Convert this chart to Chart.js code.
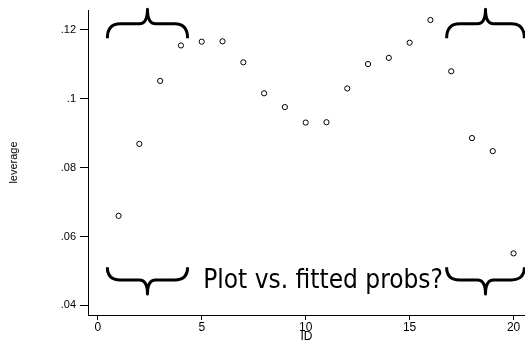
<!DOCTYPE html>
<html>
<head>
<meta charset="utf-8">
<script src="https://cdn.jsdelivr.net/npm/chart.js@4/dist/chart.umd.min.js"></script>
<style>
  html, body { margin: 0; padding: 0; background: #fff; }
  #wrap { width: 525px; height: 341px; }
</style>
</head>
<body>
<div id="wrap"><canvas id="c" width="525" height="341"></canvas></div>
<script>
// datos
const ids = [1, 2, 3, 4, 5, 6, 7, 8, 9, 10, 11, 12, 13, 14, 15, 16, 17, 18, 19, 20];
const leverage = [0.0660, 0.0869, 0.1052, 0.1155, 0.1166, 0.1167, 0.1106, 0.1016, 0.0976, 0.0931,
                  0.0932, 0.1030, 0.1101, 0.1119, 0.1163, 0.1229, 0.1080, 0.0886, 0.0848, 0.0551];
const xTicks = [0, 5, 10, 15, 20];
const yTicks = [0.04, 0.06, 0.08, 0.1, 0.12];
const note = 'Plot vs. fitted probs?';

// llaves: x1, x2 (extremos), y de extremos, barra y punta (unidades de datos)
const braces = [
  { x1: 0.46, x2: 4.32, yEnd: 0.1176, yBar: 0.1218, yTip: 0.1260 },
  { x1: 16.78, x2: 20.52, yEnd: 0.1176, yBar: 0.1218, yTip: 0.1260 },
  { x1: 0.46, x2: 4.32, yEnd: 0.0511, yBar: 0.0474, yTip: 0.0433 },
  { x1: 16.78, x2: 20.52, yEnd: 0.0511, yBar: 0.0474, yTip: 0.0433 }
];

function drawBrace(ctx, x1, x2, yEnd, yBar, yTip) {
  const xm = (x1 + x2) / 2;
  const r = 13, rt = 8;
  ctx.beginPath();
  ctx.moveTo(x1, yEnd);
  ctx.quadraticCurveTo(x1, yBar, x1 + r, yBar);
  ctx.lineTo(xm - rt, yBar);
  ctx.quadraticCurveTo(xm, yBar, xm, yTip);
  ctx.quadraticCurveTo(xm, yBar, xm + rt, yBar);
  ctx.lineTo(x2 - r, yBar);
  ctx.quadraticCurveTo(x2, yBar, x2, yEnd);
  ctx.stroke();
}

const annotations = {
  id: 'annotations',
  afterDatasetsDraw(chart) {
    const { ctx, scales: { x, y } } = chart;
    ctx.save();
    ctx.strokeStyle = '#000';
    ctx.lineWidth = 3;
    ctx.lineJoin = 'round';
    braces.forEach(b => {
      drawBrace(ctx, x.getPixelForValue(b.x1), x.getPixelForValue(b.x2),
        y.getPixelForValue(b.yEnd), y.getPixelForValue(b.yBar), y.getPixelForValue(b.yTip));
    });
    ctx.fillStyle = '#000';
    ctx.font = '26px "DejaVu Sans Condensed", "DejaVu Sans", sans-serif';
    ctx.textBaseline = 'alphabetic';
    ctx.textAlign = 'left';
    ctx.fillText(note, x.getPixelForValue(5.07), y.getPixelForValue(0.0450));
    ctx.restore();
  }
};

new Chart(document.getElementById('c'), {
  type: 'scatter',
  data: {
    datasets: [{
      data: ids.map((id, i) => ({ x: id, y: leverage[i] })),
      pointStyle: 'circle',
      pointRadius: 2.6,
      pointHoverRadius: 2.6,
      pointBorderWidth: 1,
      pointBorderColor: '#000',
      pointBackgroundColor: 'rgba(0,0,0,0)'
    }]
  },
  options: {
    responsive: false,
    animation: false,
    events: [],
    layout: { autoPadding: false, padding: { top: 10, right: 0, left: 0, bottom: 0 } },
    plugins: { legend: { display: false }, tooltip: { enabled: false } },
    scales: {
      x: {
        type: 'linear',
        min: -0.47,
        max: 20.55,
        afterBuildTicks: s => { s.ticks = xTicks.map(v => ({ value: v })); },
        afterFit: s => { s.height = 26; s.paddingLeft = 0; s.paddingRight = 0; },
        grid: { drawOnChartArea: false, drawTicks: true, tickLength: 5, color: '#000' },
        border: { display: true, color: '#000', width: 1 },
        ticks: { color: '#000', padding: 0, maxRotation: 0,
                 font: { family: '"Liberation Sans", Arial', size: 12 } },
        title: { display: true, text: 'ID', color: '#000',
                 font: { family: '"Liberation Sans", Arial', size: 12 },
                 padding: { top: 0, bottom: -3 } }
      },
      y: {
        type: 'linear',
        min: 0.0372,
        max: 0.1258,
        afterBuildTicks: s => { s.ticks = yTicks.map(v => ({ value: v })); },
        afterFit: s => { s.width = 88; s.paddingTop = 0; s.paddingBottom = 0; },
        grid: { drawOnChartArea: false, drawTicks: true, tickLength: 8, color: '#000' },
        border: { display: true, color: '#000', width: 1 },
        ticks: { color: '#000', padding: 4,
                 font: { family: '"Liberation Sans", Arial', size: 11 },
                 callback: v => String(v).replace(/^0/, '') },
        title: { display: true, text: 'leverage', color: '#000',
                 font: { family: '"Liberation Sans", Arial', size: 11 },
                 padding: { top: 7, bottom: 0 } }
      }
    }
  },
  plugins: [annotations]
});
</script>
</body>
</html>
